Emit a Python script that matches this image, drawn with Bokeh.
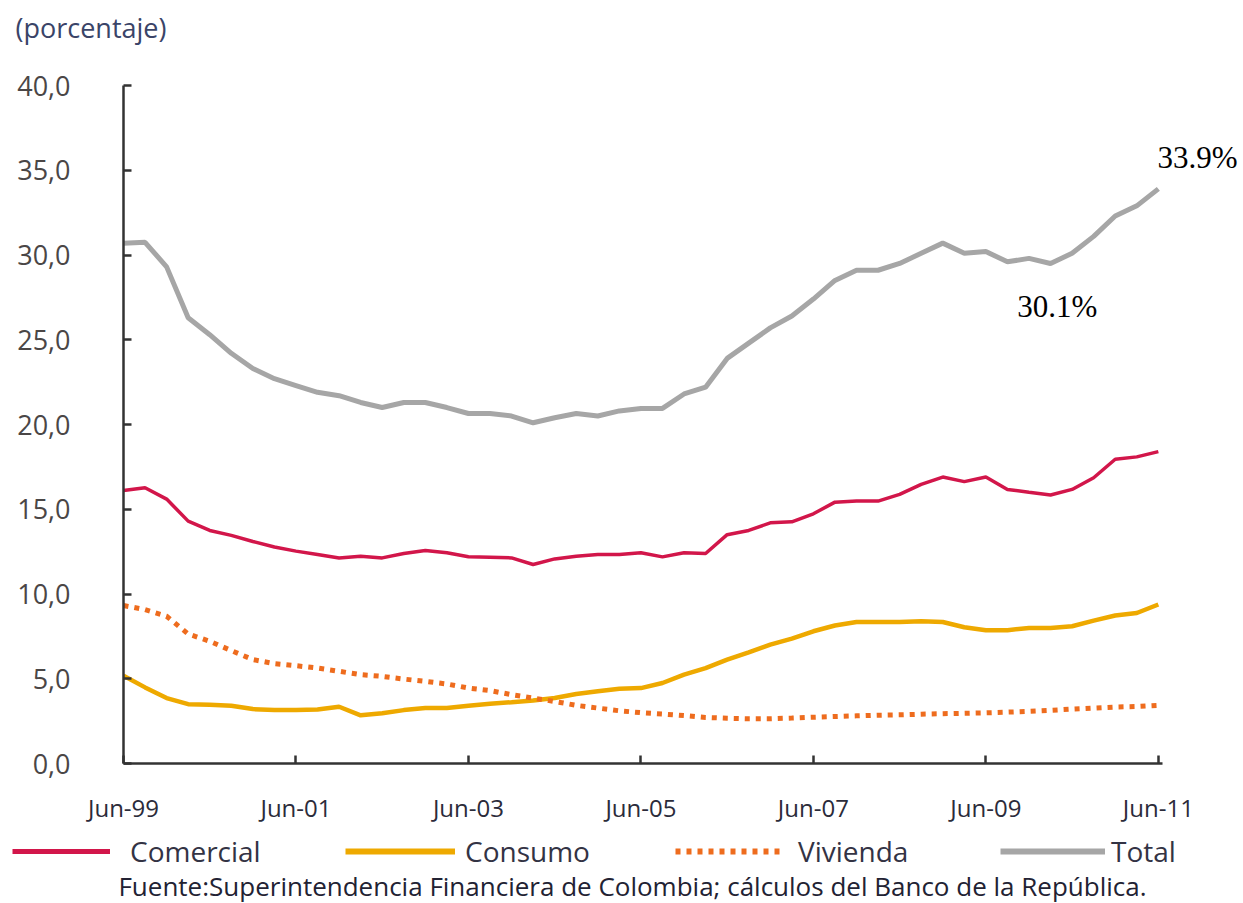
from bokeh.plotting import figure
from bokeh.layouts import column
from bokeh.models import Range1d, FixedTicker, Label, Legend, LegendItem
from bokeh.embed import file_html
from bokeh.resources import INLINE

# ---------------- data (quarterly, Jun-99 .. Jun-11) ----------------
comercial = [16.1, 16.27, 15.6, 14.3, 13.75, 13.46, 13.1, 12.77, 12.53, 12.33,
             12.13, 12.23, 12.13, 12.39, 12.57, 12.43, 12.2, 12.17, 12.13, 11.74,
             12.07, 12.23, 12.33, 12.33, 12.43, 12.19, 12.43, 12.39, 13.5, 13.75,
             14.2, 14.26, 14.73, 15.42, 15.48, 15.48, 15.88, 16.47, 16.9, 16.63,
             16.9, 16.17, 16.0, 15.84, 16.17, 16.86, 17.95, 18.09, 18.4]
consumo = [5.18, 4.49, 3.86, 3.5, 3.47, 3.41, 3.21, 3.15, 3.15, 3.19,
           3.35, 2.84, 2.97, 3.15, 3.27, 3.27, 3.41, 3.53, 3.62, 3.72,
           3.86, 4.1, 4.26, 4.41, 4.45, 4.75, 5.24, 5.63, 6.13, 6.56,
           7.01, 7.37, 7.8, 8.14, 8.35, 8.35, 8.35, 8.39, 8.35, 8.04,
           7.86, 7.86, 8.0, 8.0, 8.1, 8.43, 8.73, 8.88, 9.38]
vivienda = [9.32, 9.08, 8.69, 7.64, 7.21, 6.66, 6.13, 5.89, 5.77, 5.63,
            5.44, 5.24, 5.14, 4.98, 4.85, 4.69, 4.45, 4.3, 4.06, 3.86,
            3.66, 3.43, 3.27, 3.11, 3.0, 2.92, 2.83, 2.72, 2.67, 2.64,
            2.64, 2.68, 2.73, 2.77, 2.81, 2.85, 2.87, 2.91, 2.94, 2.96,
            2.99, 3.03, 3.08, 3.14, 3.21, 3.27, 3.33, 3.36, 3.43]
total = [30.7, 30.75, 29.3, 26.3, 25.3, 24.2, 23.3, 22.7, 22.3, 21.9,
         21.7, 21.3, 21.0, 21.3, 21.3, 21.0, 20.65, 20.65, 20.5, 20.1,
         20.4, 20.65, 20.5, 20.8, 20.95, 20.95, 21.8, 22.2, 23.9, 24.8,
         25.7, 26.4, 27.4, 28.5, 29.1, 29.1, 29.5, 30.1, 30.7, 30.1,
         30.2, 29.6, 29.8, 29.5, 30.1, 31.1, 32.3, 32.9, 33.9]
quarter_index = list(range(len(total)))

x_tick_pos = [0, 8, 16, 24, 32, 40, 48]
x_tick_labels = ["Jun-99", "Jun-01", "Jun-03", "Jun-05", "Jun-07", "Jun-09", "Jun-11"]
y_tick_pos = [0, 5, 10, 15, 20, 25, 30, 35, 40]
y_tick_labels = ["0,0", "5,0", "10,0", "15,0", "20,0", "25,0", "30,0", "35,0", "40,0"]

series_names = ["Comercial", "Consumo", "Vivienda", "Total"]
annot_texts = ["33.9%", "30.1%"]
unit_text = "(porcentaje)"
source_text = "Fuente:Superintendencia Financiera de Colombia; cálculos del Banco de la República."

FONT = "Open Sans"
W = 1243
STYLES = {
    "Comercial": dict(line_color="#d2164a", line_width=3.5),
    "Consumo": dict(line_color="#eea900", line_width=4.5),
    "Vivienda": dict(line_color="#ee6c1e", line_width=5, line_dash="5 6", line_cap="butt"),
    "Total": dict(line_color="#a6a6a6", line_width=5),
}
LEGEND_WIDTHS = {"Comercial": 5, "Consumo": 6, "Vivienda": 6, "Total": 6}


def blank_fig(h):
    f = figure(width=W, height=h, output_backend="svg", toolbar_location=None,
               x_range=Range1d(0, W), y_range=Range1d(h, 0),
               x_axis_type=None, y_axis_type=None, frame_align=False,
               min_border=0, min_border_left=0, min_border_right=0,
               min_border_top=0, min_border_bottom=0)
    f.outline_line_color = None
    f.xgrid.visible = False
    f.ygrid.visible = False
    return f


# ---------------- top strip: unit text ----------------
top = blank_fig(49)
top.add_layout(Label(x=15, y=27, text=unit_text, text_font=FONT,
                     text_font_size="27px", text_color="#3a4468",
                     text_baseline="middle", text_align="left"))

# ---------------- main chart ----------------
p = figure(width=W, height=779, output_backend="svg", toolbar_location=None,
           x_range=Range1d(0, 51.95), y_range=Range1d(0, 40), frame_align=False,
           min_border_left=123, min_border_right=0, min_border_top=36,
           min_border_bottom=65)
p.outline_line_color = None
p.xgrid.visible = False
p.ygrid.visible = False

for ax in (p.xaxis[0], p.yaxis[0]):
    ax.axis_line_color = "#333333"
    ax.axis_line_width = 2.5
    ax.major_tick_line_color = "#333333"
    ax.major_tick_line_width = 2.5
    ax.major_tick_in = 8
    ax.major_tick_out = 0
    ax.minor_tick_line_color = None
    ax.major_label_text_font = FONT

p.xaxis.ticker = FixedTicker(ticks=x_tick_pos)
p.xaxis.major_label_overrides = {k: v for k, v in zip(x_tick_pos, x_tick_labels)}
p.xaxis.bounds = (0, 48.2)
p.xaxis.major_label_standoff = 27
p.xaxis.major_label_text_font_size = "24px"
p.xaxis.major_label_text_color = "#2b2b3a"

p.yaxis.ticker = FixedTicker(ticks=y_tick_pos)
p.yaxis.major_label_overrides = {k: v for k, v in zip(y_tick_pos, y_tick_labels)}
p.yaxis.bounds = (0, 40)
p.yaxis.major_label_standoff = 53
p.yaxis.major_label_text_font_size = "27px"
p.yaxis.major_label_text_color = "#4a4646"

p.line(quarter_index, comercial, **STYLES["Comercial"])
p.line(quarter_index, consumo, **STYLES["Consumo"])
p.line(quarter_index, vivienda, **STYLES["Vivienda"])
p.line(quarter_index, total, **STYLES["Total"])

p.add_layout(Label(x=47.96, y=35.75, text=annot_texts[0], text_font="Liberation Serif",
                   text_font_size="31px", text_color="black",
                   text_baseline="middle", text_align="left"))
p.add_layout(Label(x=41.45, y=26.94, text=annot_texts[1], text_font="Liberation Serif",
                   text_font_size="31px", text_color="black",
                   text_baseline="middle", text_align="left"))

# ---------------- bottom strip: legend + source ----------------
bot = blank_fig(75)
leg_pos = {"Comercial": (12, 98, 20), "Consumo": (345, 110, 10),
           "Vivienda": (675, 110, 13), "Total": (1000, 105, 6)}
for name in series_names:
    # legend-only renderer (draws nothing on its own)
    style = dict(STYLES[name])
    style["line_width"] = LEGEND_WIDTHS[name]
    r = bot.line([float("nan")], [float("nan")], **style)
    vx, gw, st = leg_pos[name]
    leg = Legend(items=[LegendItem(label=name, renderers=[r])],
                 location=(vx, 33), orientation="horizontal",
                 glyph_width=gw, glyph_height=36, label_height=36,
                 label_standoff=st, padding=0, margin=0, spacing=0,
                 background_fill_alpha=0, border_line_alpha=0,
                 label_text_font=FONT, label_text_font_size="28px",
                 label_text_color="#333344")
    bot.add_layout(leg, "center")

bot.add_layout(Label(x=632, y=57, text=source_text, text_font=FONT,
                     text_font_size="26px", text_color="#222233",
                     text_baseline="middle", text_align="center"))

layout = column(top, p, bot, spacing=0)
open("out.html", "w").write(file_html(layout, INLINE))
